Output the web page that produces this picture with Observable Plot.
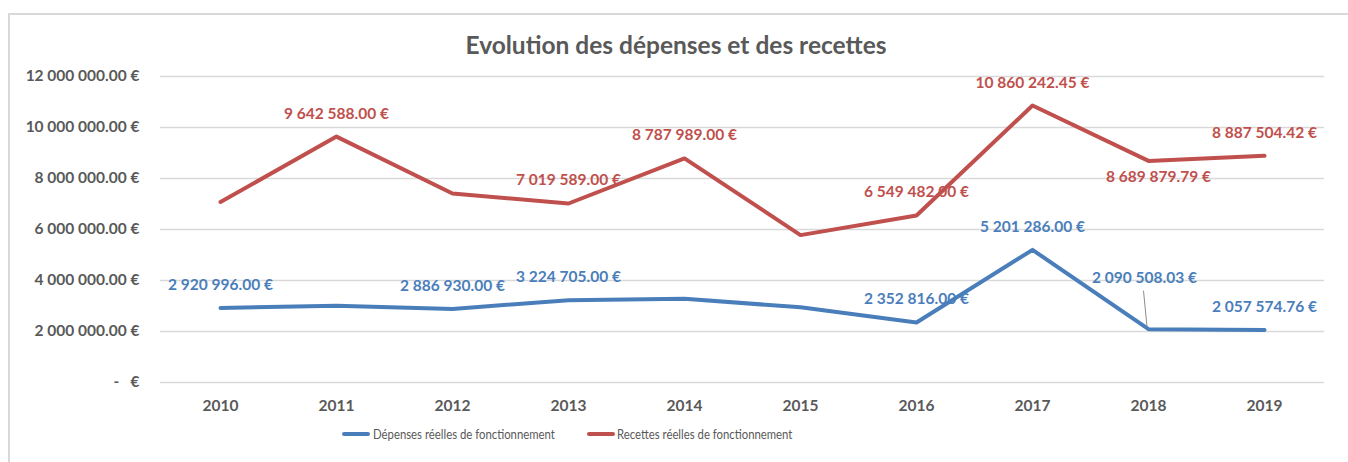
<!DOCTYPE html>
<html>
<head>
<meta charset="utf-8">
<script src="https://cdn.jsdelivr.net/npm/d3@7"></script>
<script src="https://cdn.jsdelivr.net/npm/@observablehq/plot@0.6"></script>
<style>
  body { margin: 0; background: #fff; }
  #wrap { position: relative; width: 1348px; height: 462px; overflow: hidden; background: #fff; font-family: Lato, "Open Sans", sans-serif; }
  #frame { position: absolute; left: 8px; top: 13px; width: 1400px; height: 520px; border: 2px solid #d9d9d9; box-sizing: border-box; pointer-events: none; z-index: 3; }
  #title { position: absolute; top: 31px; left: 2px; width: 1348px; line-height: 28px; text-align: center; font-size: 24.5px; font-weight: bold; color: #595959; }
  #chart { position: absolute; left: 0; top: 50px; }
  #legend { position: absolute; top: 425px; left: 0; width: 1348px; height: 20px; font-size: 13.5px; color: #595959; line-height: 18px; }
  .sw { position: absolute; top: 7px; width: 28px; height: 4px; border-radius: 2px; }
  .lt { position: absolute; top: 0; white-space: nowrap; transform-origin: 0 50%; transform: scaleX(0.84); }
</style>
</head>
<body>
<div id="wrap">
  <div id="title">Evolution des dépenses et des recettes</div>
  <div id="chart"></div>
  <div id="legend"></div>
  <div id="frame"></div>
</div>
<script>
// ---- data ----
const years = ["2010", "2011", "2012", "2013", "2014", "2015", "2016", "2017", "2018", "2019"];
const depenses = [2920996.00, 3010000, 2886930.00, 3224705.00, 3280000, 2950000, 2352816.00, 5201286.00, 2090508.03, 2057574.76];
const recettes = [7080000, 9642588.00, 7410000, 7019589.00, 8787989.00, 5780000, 6549482.00, 10860242.45, 8689879.79, 8887504.42];
const depensesLabelled = [true, false, true, true, false, false, true, true, true, true];
const recettesLabelled = [false, true, false, true, true, false, true, true, true, true];
const seriesNames = ["Dépenses réelles de fonctionnement", "Recettes réelles de fonctionnement"];
const seriesColors = ["#4a7ebb", "#c0504d"];
const yTicks = [0, 2000000, 4000000, 6000000, 8000000, 10000000, 12000000];

// ---- label layout (offsets in pixels, not data) ----
const defaultLabelOffset = {dx: 0, dy: -23};
const labelOffsets = {
  "Recettes réelles de fonctionnement|2018": {dx: 10, dy: 16},
  "Dépenses réelles de fonctionnement|2018": {dx: -4, dy: -51, leader: true}
};
// legend layout (pixel positions of swatch / text)
const legendLayout = [{swatch: 342, text: 373}, {swatch: 587, text: 617}];

// ---- build table ----
const rows = [];
years.forEach((yr, i) => {
  rows.push({series: seriesNames[0], year: yr, value: depenses[i], labelled: depensesLabelled[i]});
  rows.push({series: seriesNames[1], year: yr, value: recettes[i], labelled: recettesLabelled[i]});
});

const locale = d3.formatLocale({decimal: ".", thousands: " ", grouping: [3], currency: ["", ""]});
const num = locale.format(",.2f");
const euro = v => num(v) + " €";

const labelled = rows.filter(d => d.labelled);
const keyOf = d => d.series + "|" + d.year;
const defaultLabels = labelled.filter(d => !labelOffsets[keyOf(d)]);
const specialLabelMarks = labelled.filter(d => labelOffsets[keyOf(d)]).map(d => {
  const o = labelOffsets[keyOf(d)];
  return Plot.text([d], {x: "year", y: "value", text: d => euro(d.value), fill: "series",
    fontWeight: "bold", fontSize: 15.5, dx: o.dx, dy: o.dy});
});

const leaderRows = labelled.filter(d => labelOffsets[keyOf(d)] && labelOffsets[keyOf(d)].leader);
const leaderMark = (index, scales) => {
  const g = d3.create("svg:g");
  leaderRows.forEach(d => {
    const sx = scales.x(d.year), sy = scales.y(d.value);
    g.append("line")
      .attr("x1", sx - 4.5).attr("y1", sy - 38)
      .attr("x2", sx - 1).attr("y2", sy - 2)
      .attr("stroke", "#8c8c8c").attr("stroke-width", 1);
  });
  return g.node();
};

const chart = Plot.plot({
  width: 1348,
  height: 370,
  marginLeft: 160,
  marginRight: 24,
  marginTop: 26,
  marginBottom: 38,
  style: {fontFamily: "Lato, 'Open Sans', sans-serif", background: "transparent", color: "#595959", overflow: "visible"},
  x: {type: "point", domain: years, padding: 0.5, label: null},
  y: {domain: [0, 12000000], label: null},
  color: {domain: seriesNames, range: seriesColors},
  marks: [
    Plot.gridY(yTicks, {stroke: "#d9d9d9", strokeOpacity: 1, strokeWidth: 1.5}),
    Plot.axisY(yTicks, {tickSize: 0, tickPadding: 21, fontSize: 15.5, fontWeight: "bold",
      tickFormat: v => v === 0 ? "-\u00a0\u00a0\u00a0€" : euro(v), label: null}),
    Plot.axisX({tickSize: 0, tickPadding: 17, fontSize: 15.5, fontWeight: "bold", label: null}),
    Plot.line(rows, {x: "year", y: "value", z: "series", stroke: "series", strokeWidth: 4,
      strokeLinejoin: "round", strokeLinecap: "round"}),
    leaderMark,
    Plot.text(defaultLabels, {x: "year", y: "value", text: d => euro(d.value), fill: "series",
      fontWeight: "bold", fontSize: 15.5, dx: defaultLabelOffset.dx, dy: defaultLabelOffset.dy}),
    ...specialLabelMarks
  ]
});
document.getElementById("chart").appendChild(chart);

// legend
const legend = document.getElementById("legend");
seriesNames.forEach((name, i) => {
  const sw = document.createElement("div");
  sw.className = "sw";
  sw.style.left = legendLayout[i].swatch + "px";
  sw.style.background = seriesColors[i];
  const t = document.createElement("span");
  t.className = "lt";
  t.style.left = legendLayout[i].text + "px";
  t.textContent = name;
  legend.appendChild(sw);
  legend.appendChild(t);
});
</script>
</body>
</html>
